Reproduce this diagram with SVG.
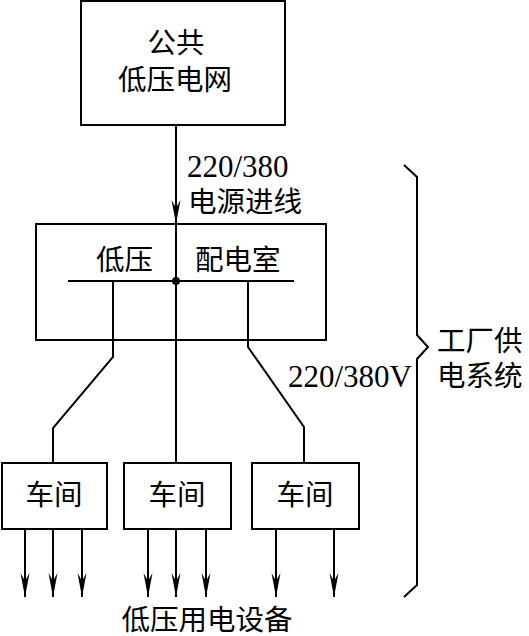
<svg xmlns="http://www.w3.org/2000/svg" width="529" height="636" viewBox="0 0 529 636">
<style>
.box{fill:#fff;stroke:#000;stroke-width:2}
.ln{fill:none;stroke:#000;stroke-width:2}
.t{font-family:"Liberation Serif","Noto Sans CJK SC",serif;font-size:28.5px;fill:#000}
.n{font-size:31px}
.c{text-anchor:middle}
</style>
<defs>
<marker id="ar" viewBox="0 0 24 10" refX="24" refY="5" markerWidth="24" markerHeight="10" markerUnits="userSpaceOnUse" orient="auto">
<path d="M24,5 L0,0.5 L8,5 L0,9.5 Z" fill="#000"/>
</marker>
</defs>
<rect width="529" height="636" fill="#fff"/>
<g id="grid">
<rect class="box" x="81" y="1" width="204" height="124"/>
<text class="t c" x="176" y="53">公共</text>
<text class="t c" x="175" y="90">低压电网</text>
</g>
<g id="room">
<rect class="box" x="36" y="224" width="290" height="116"/>
<text class="t" x="96" y="270">低压</text>
<text class="t" x="195" y="270">配电室</text>
<line class="ln" x1="68" y1="281" x2="294" y2="281"/>
<circle cx="176" cy="281" r="4" fill="#000"/>
</g>
<g id="ws1">
<rect class="box" x="2" y="463" width="105" height="66"/>
<text class="t c" x="54" y="505">车间</text>
</g>
<g id="ws2">
<rect class="box" x="124" y="463" width="107" height="66"/>
<text class="t c" x="177" y="505">车间</text>
</g>
<g id="ws3">
<rect class="box" x="252" y="463" width="107" height="66"/>
<text class="t c" x="305" y="505">车间</text>
</g>
<g id="connectors">
<line class="ln" x1="176" y1="125" x2="176" y2="224" marker-end="url(#ar)"/>
<line class="ln" x1="176" y1="224" x2="176" y2="463"/>
<polyline class="ln" points="113,281 113,357 53,428 53,463"/>
<polyline class="ln" points="248,281 248,347 304,427 304,463"/>
<line class="ln" x1="25" y1="529" x2="25" y2="597" marker-end="url(#ar)"/>
<line class="ln" x1="53" y1="529" x2="53" y2="597" marker-end="url(#ar)"/>
<line class="ln" x1="82" y1="529" x2="82" y2="597" marker-end="url(#ar)"/>
<line class="ln" x1="148" y1="529" x2="148" y2="597" marker-end="url(#ar)"/>
<line class="ln" x1="176" y1="529" x2="176" y2="597" marker-end="url(#ar)"/>
<line class="ln" x1="206" y1="529" x2="206" y2="597" marker-end="url(#ar)"/>
<line class="ln" x1="276" y1="529" x2="276" y2="597" marker-end="url(#ar)"/>
<line class="ln" x1="334" y1="529" x2="334" y2="597" marker-end="url(#ar)"/>
</g>
<g id="labels">
<text class="t n" x="187" y="177">220/380</text>
<text class="t" x="188" y="212">电源进线</text>
<text class="t n" x="288" y="387">220/380V</text>
<text class="t" x="437" y="351">工厂供</text>
<text class="t" x="437" y="386">电系统</text>
<text class="t c" x="207" y="630">低压用电设备</text>
</g>
<g id="brace">
<polyline class="ln" points="404,165 417,177 417,335 428,347 417,359 417,585 404,597"/>
</g>
</svg>
